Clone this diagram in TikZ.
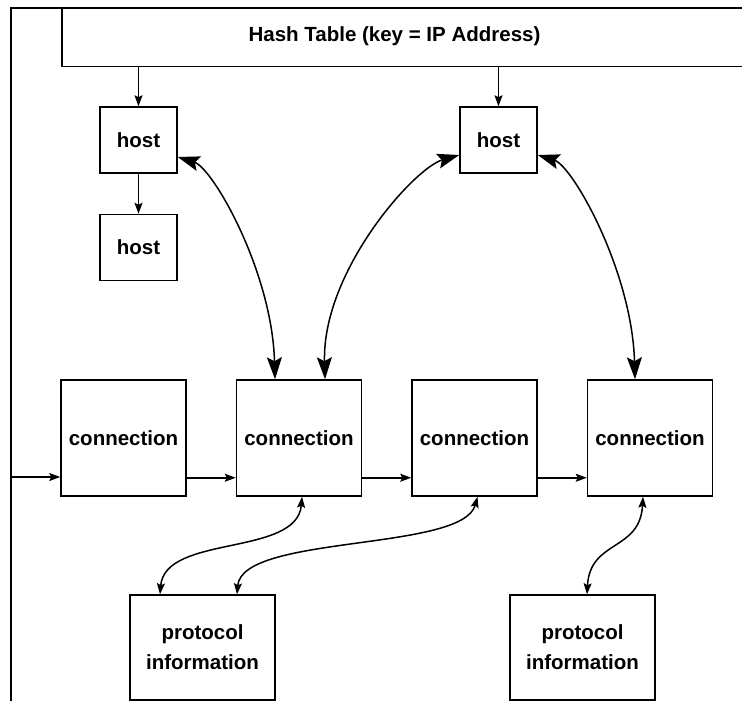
\documentclass[tikz,border=0pt]{standalone}
\usepackage{fontspec}
\setmainfont{Liberation Sans}
\usetikzlibrary{arrows.meta,positioning}

\begin{document}
\begin{tikzpicture}[x=1pt,y=-1pt,->,>={Stealth[length=11pt,width=8pt,inset=2pt]},line width=1.5pt,
  node distance=175.5pt,font=\fontsize{20.5}{30}\selectfont\bfseries]
\tikzstyle{box}=[draw,rectangle,inner sep=0pt,align=center]
\tikzstyle{hostbox}=[box,minimum width=77pt,minimum height=66pt]
\tikzstyle{connbox}=[box,minimum width=125pt,minimum height=116pt]
\tikzstyle{protobox}=[box,minimum width=145pt,minimum height=105pt]
\tikzstyle{bigtips}=[{Stealth[length=22pt,width=15pt,inset=4pt]}-{Stealth[length=22pt,width=15pt,inset=4pt]}]
\useasboundingbox (0,0) rectangle (742,701);
% outer frame
\draw[-,line width=2.5pt] (11,701) -- (11,8) -- (742,8);
\node[box,minimum width=720pt,minimum height=58pt,anchor=north west] (hash) at (61,8) {};
\node (hashtext) at (394.5,36) {Hash Table (key = IP Address)};
% hosts
\node[hostbox] (host1) at (138.5,140) {host};
\node[hostbox][below of=host1,node distance=107.5pt] (host2) {host};
\node[hostbox][right of=host1,node distance=360pt] (host3) {host};
% connections
\node[connbox] (conn1) at (123.5,438) {connection};
\node[connbox][right of=conn1] (conn2) {connection};
\node[connbox][right of=conn2] (conn3) {connection};
\node[connbox][right of=conn3] (conn4) {connection};
% protocol info
\node[protobox] (proto1) at (202.5,647.5) {protocol\\information};
\node[protobox][right of=proto1,node distance=380pt] (proto2) {protocol\\information};
\coordinate (entry) at (11,477);

\draw (host1 |- hash.south) -- (host1);
\draw (host3 |- hash.south) -- (host3);
\draw (host1) -- (host2);
\draw (entry) -- (entry -| conn1.west);
\draw ([yshift=19pt]conn1.south east) -- ([yshift=19pt]conn2.south west);
\draw ([yshift=19pt]conn2.south east) -- ([yshift=19pt]conn3.south west);
\draw ([yshift=19pt]conn3.south east) -- ([yshift=19pt]conn4.south west);
% host <-> connection
\draw[bigtips] ([yshift=-17pt]host1.east) .. controls +(35,11) and +(-3,-108) .. ([xshift=-24pt]conn2.north);
\draw[bigtips] ([yshift=-15pt]host3.west) .. controls +(-45,13) and +(-3,-108) .. ([xshift=26pt]conn2.north);
\draw[bigtips] ([yshift=-15pt]host3.east) .. controls +(35,11) and +(-3,-108) .. ([xshift=-15pt]conn4.north);
% connection <-> protocol
\draw[<->] ([xshift=3pt]conn2.south) .. controls +(-5,60) and +(5,-60) .. ([xshift=-42.5pt]proto1.north);
\draw[<->] ([xshift=3pt]conn3.south) .. controls +(-15,55) and +(5,-60) .. ([xshift=34.5pt]proto1.north);
\draw[<->] ([xshift=-7pt]conn4.south) .. controls +(-3,55) and +(3,-55) .. ([xshift=4.5pt]proto2.north);
\end{tikzpicture}
\end{document}
